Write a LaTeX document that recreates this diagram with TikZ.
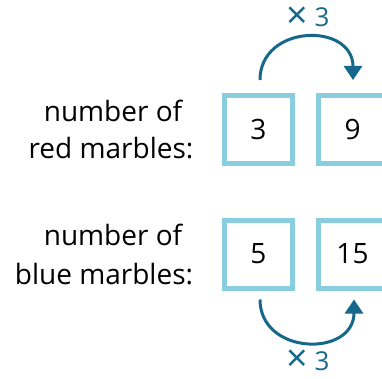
\documentclass[tikz,border=0pt]{standalone}
\usepackage{fontspec}
\usepackage{graphicx}
\setmainfont{Open Sans}
\usetikzlibrary{arrows.meta,calc}
\definecolor{boxblue}{RGB}{137,206,222}
\definecolor{arrowblue}{RGB}{22,104,138}
\newcommand{\bigtimes}{\raisebox{-0.06em}{\scalebox{1.45}{×}}}
\tikzset{
  numbox/.style={draw=boxblue,line width=5pt,minimum size=68pt,inner sep=0pt,
    font=\fontsize{28}{32}\selectfont},
  lbl/.style={anchor=base,inner sep=0pt,font=\fontsize{28}{32}\selectfont},
  times/.style={anchor=base,inner sep=0pt,text=arrowblue,font=\fontsize{26}{30}\selectfont},
  jump/.style={draw=arrowblue,line width=3pt,-{Triangle[length=14pt,width=18pt]}}
}
\begin{document}
\begin{tikzpicture}[x=1pt,y=-1pt]
\useasboundingbox (0,0) rectangle (382,379);
\clip (0,0) rectangle (382,379);
\node[numbox] (b1) at (258.5,129.5) {3};
\node[numbox] (b2) at (352.5,129.5) {9};
\node[numbox] (b3) at (258.5,254) {5};
\node[numbox] (b4) at (352.5,254) {15};
\node[lbl] (l1) at (113,121.7) {number of};
\node[lbl] (l2) at (111,159) {red marbles:};
\node[lbl] (l3) at (113,245.7) {number of};
\node[lbl] (l4) at (104,284) {blue marbles:};
\node[times] (t1) at (308,27) {\bigtimes{} 3};
\node[times] (t2) at (308,370) {\bigtimes{} 3};
\coordinate (s1) at ($(b1.north)+(1.5,-13)$);
\coordinate (e1) at ($(b2.north)+(0.5,-13)$);
\coordinate (s2) at ($(b3.south)+(1.5,9)$);
\coordinate (e2) at ($(b4.south)+(1.5,9)$);
\draw[jump] (s1) .. controls ($(s1)+(0,-56)$) and ($(e1)+(0,-58)$) .. (e1);
\draw[jump] (s2) .. controls ($(s2)+(0,56)$) and ($(e2)+(0,58)$) .. (e2);
\end{tikzpicture}
\end{document}
